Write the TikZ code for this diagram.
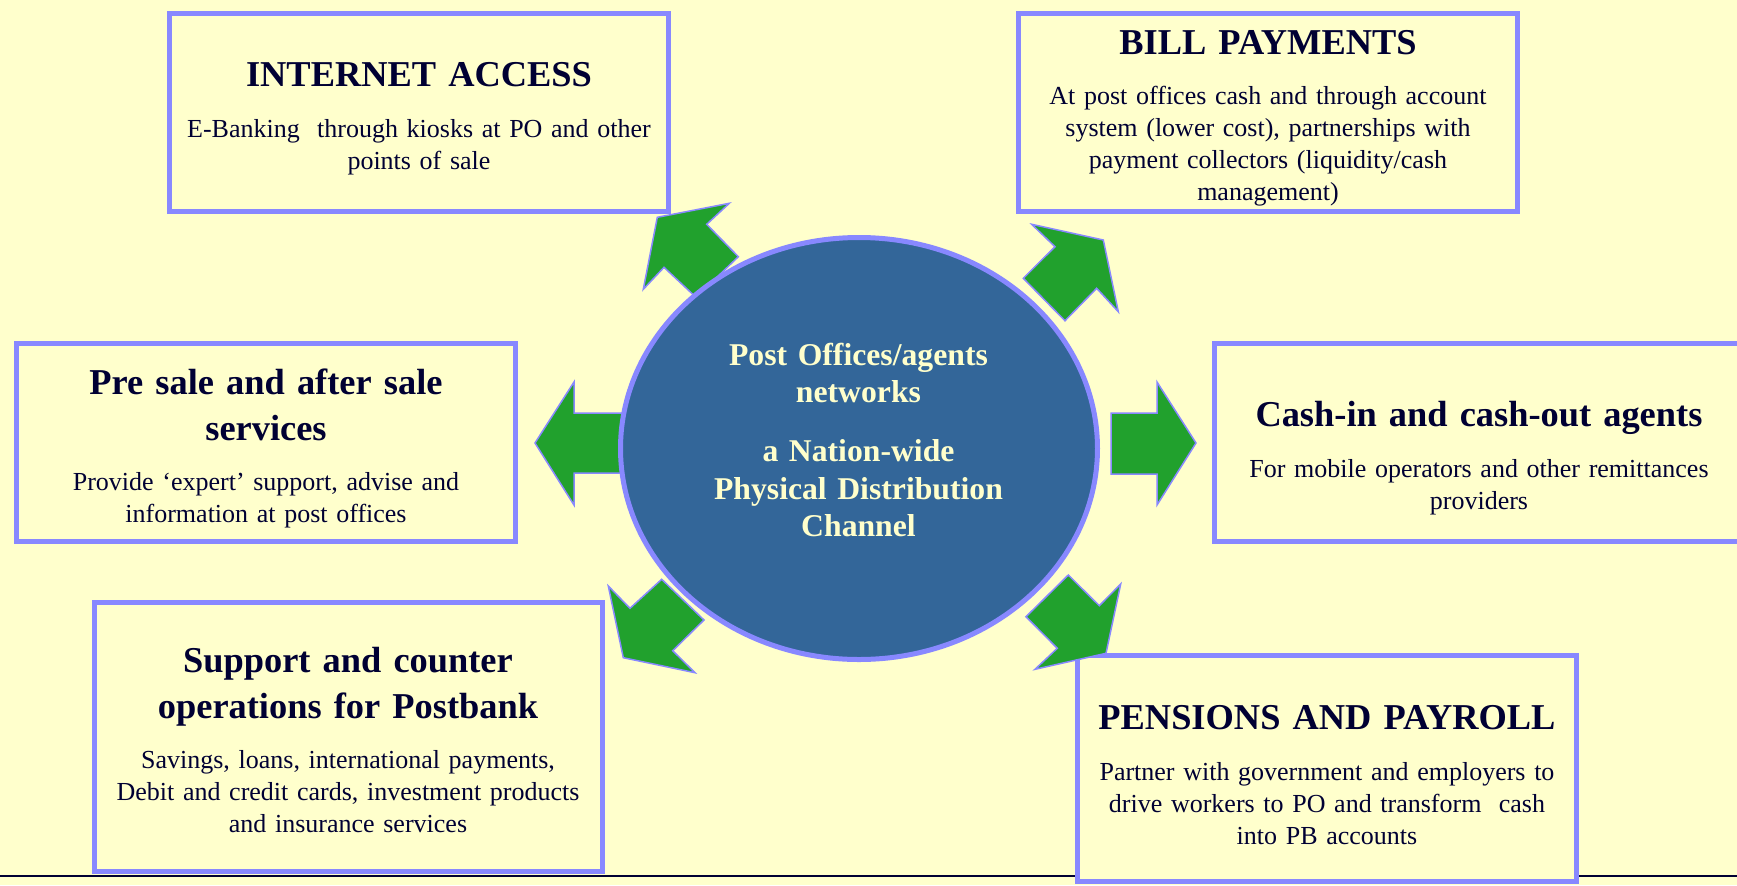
\documentclass[tikz,border=0pt]{standalone}
\usepackage{fontspec}
\setmainfont{Liberation Serif}
\usetikzlibrary{shapes.geometric}
\definecolor{paper}{RGB}{255,255,204}
\definecolor{frame}{RGB}{136,136,255}
\definecolor{navy}{RGB}{0,0,51}
\definecolor{hubblue}{RGB}{51,102,153}
\definecolor{arrowgreen}{RGB}{33,161,45}

\begin{document}
\begin{tikzpicture}[x=0.5pt,y=-0.5pt]
\tikzstyle{box} = [rectangle, draw=frame, line width=2.5pt, fill=paper, inner sep=0pt]
\tikzstyle{head} = [text=navy, font=\fontsize{18.2}{23}\selectfont\bfseries,
text width=320pt, align=center, anchor=base, inner sep=0pt]
\tikzstyle{body} = [text=navy, font=\fontsize{13}{16}\selectfont,
text width=320pt, align=center, anchor=base, inner sep=0pt]
\tikzstyle{hub} = [ellipse, draw=frame, line width=2.5pt, fill=hubblue, inner sep=0pt]
\tikzstyle{hubtext} = [text=paper, font=\fontsize{15.85}{18.75}\selectfont\bfseries,
text width=200pt, align=center, anchor=base, inner sep=0pt]
\tikzstyle{blockarrow} = [fill=arrowgreen, draw=frame, line width=0.75pt, line join=miter]
\tikzstyle{rule} = [draw=navy, line width=1pt]

\path[fill=paper, use as bounding box] (0,0) rectangle (1737,885);
\draw[rule] (0,876) -- (1737,876);

% boxes
\node [box, minimum width=249.5pt, minimum height=99pt] (inet) at (419,112.5) {};
\node [box, minimum width=249.5pt, minimum height=99pt] (bill) at (1268,112.5) {};
\node [box, minimum width=249.5pt, minimum height=99pt] (sale) at (266,442.5) {};
\node [box, minimum width=265.75pt, minimum height=99pt] (cash) at (1480,442.5) {};
\node [box, minimum width=254pt, minimum height=134.5pt] (bank) at (348.5,737) {};
\node [box, minimum width=249.5pt, minimum height=113pt] (pay) at (1327,768.5) {};

% arrows round the hub
\path[blockarrow] (657.3,217.3) -- (729.3,203.3) -- (706.7,224.3) -- (738.3,256.7)
  -- (696,297.3) -- (664,267.3) -- (643.3,289.3) -- cycle;
\path[blockarrow] (1103.3,240) -- (1118.3,311.7) -- (1096.7,288.3) -- (1065,320.7)
  -- (1023.3,278.3) -- (1055,246.7) -- (1031.7,224.3) -- cycle;
\path[blockarrow] (1106,653.3) -- (1035,669.3) -- (1057.3,648.3) -- (1026,616.7)
  -- (1068.3,575) -- (1099.3,605.7) -- (1120.7,584) -- cycle;
\path[blockarrow] (623.3,657.7) -- (608.3,586) -- (630,608.3) -- (661.7,579.3)
  -- (704,620) -- (672.7,650.7) -- (695,672.7) -- cycle;
\path[blockarrow] (535,443) -- (574,382) -- (574,413) -- (625,413)
  -- (625,473) -- (574,473) -- (574,505) -- cycle;
\path[blockarrow] (1196,443) -- (1157,505) -- (1157,474) -- (1111,474)
  -- (1111,413) -- (1157,413) -- (1157,382) -- cycle;

\node [hub, minimum width=238.5pt, minimum height=211pt] (hub) at (859,448.5) {};

% texts
\node [head] (inet-head) at (419,86) {INTERNET ACCESS};
\node [body] (inet-body) at (419,137) {E-Banking~ through kiosks at PO and other\\points of sale};
\node [head] (bill-head) at (1268,54) {BILL PAYMENTS};
\node [body] (bill-body) at (1268,104.5) {At post offices cash and through account\\
system (lower cost), partnerships with\\payment collectors (liquidity/cash\\management)};
\node [head] (sale-head) at (266,394) {Pre sale and after sale\\services};
\node [body] (sale-body) at (266,490) {Provide `expert' support, advise and\\information at post offices};
\node [head] (cash-head) at (1479,426) {Cash-in and cash-out agents};
\node [body] (cash-body) at (1479,477) {For mobile operators and other remittances\\providers};
\node [head] (bank-head) at (348,672) {Support and counter\\operations for Postbank};
\node [body] (bank-body) at (348,768) {Savings, loans, international payments,\\
Debit and credit cards, investment products\\and insurance services};
\node [head] (pay-head) at (1327,729) {PENSIONS AND PAYROLL};
\node [body] (pay-body) at (1327,780) {Partner with government and employers to\\
drive workers to PO and transform~ cash\\into PB accounts};
\node [hubtext] (hub-text) at (858.5,365) {Post Offices/agents\\networks\\[10.75pt]
a Nation-wide\\Physical Distribution\\Channel};

\end{tikzpicture}
\end{document}
